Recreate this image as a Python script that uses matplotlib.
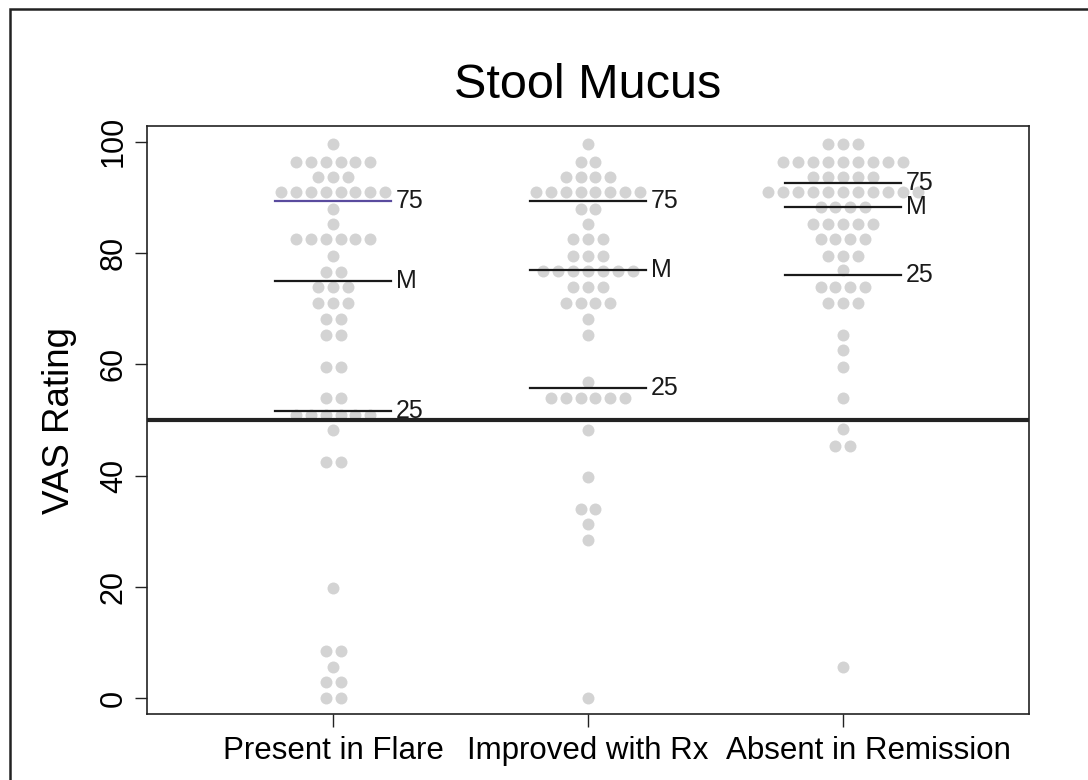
import numpy as np
import matplotlib
matplotlib.use("Agg")
import matplotlib.pyplot as plt
import matplotlib.transforms as mtransforms
from matplotlib.patches import Rectangle

plt.rcParams["font.family"] = ["Liberation Sans", "DejaVu Sans"]

groups = ["Present in Flare", "Improved with Rx", "Absent in Remission"]

# beeswarm rows: rating level and number of patients at that level
flare_levels = [99.5, 96.4, 93.7, 91.0, 87.9, 85.2, 82.5, 79.5, 76.6, 73.9, 71.1, 68.1,
                65.3, 59.6, 53.9, 50.9, 48.2, 42.5, 19.9, 8.5, 5.7, 2.9, 0.0]
flare_counts = [1, 6, 3, 8, 1, 1, 6, 1, 2, 3, 3, 2,
                2, 2, 2, 6, 1, 2, 1, 2, 1, 2, 2]

rx_levels = [99.5, 96.4, 93.7, 91.0, 87.9, 85.3, 82.5, 79.5, 76.8, 73.9, 71.1, 68.1,
             65.3, 56.9, 53.9, 48.2, 39.7, 34.0, 31.3, 28.4, 0.0]
rx_counts = [1, 2, 4, 8, 2, 1, 3, 3, 7, 3, 4, 1,
             1, 1, 6, 1, 1, 2, 1, 1, 1]

rem_levels = [99.5, 96.4, 93.7, 90.9, 88.2, 85.2, 82.5, 79.5, 76.9, 73.9, 71.1,
              65.3, 62.5, 59.6, 53.9, 48.3, 45.4, 5.7]
rem_counts = [3, 9, 5, 11, 4, 5, 4, 3, 1, 4, 3,
              1, 1, 1, 1, 1, 2, 1]

# quartile lines (25th, median, 75th)
q25 = [51.7, 55.8, 76.1]
med = [75.0, 77.0, 88.2]
q75 = [89.3, 89.3, 92.5]

threshold = 50

levels = [flare_levels, rx_levels, rem_levels]
counts = [flare_counts, rx_counts, rem_counts]

fig = plt.figure(figsize=(10.88, 7.8), dpi=100)
ax = fig.add_axes([147 / 1088, 66 / 780, 882 / 1088, 588 / 780])

dx = 0.0586
for i, (lv, ct) in enumerate(zip(levels, counts)):
    xs, ys = [], []
    for v, n in zip(lv, ct):
        off = (np.arange(n) - (n - 1) / 2) * dx
        xs.extend(i + 1 + off)
        ys.extend([v] * n)
    ax.scatter(xs, ys, s=74, color="#d3d3d3", linewidths=0, zorder=2)

hw = 0.226
for i in range(3):
    x = i + 1
    c75 = "#5a4b9e" if i == 0 else "#1a1a1a"
    ax.plot([x - hw, x + hw], [q75[i], q75[i]], color=c75, lw=1.6, zorder=3)
    ax.plot([x - hw, x + hw], [med[i], med[i]], color="#1a1a1a", lw=1.6, zorder=3)
    ax.plot([x - hw, x + hw], [q25[i], q25[i]], color="#1a1a1a", lw=1.6, zorder=3)
    for val, lab in [(q75[i], "75"), (med[i], "M"), (q25[i], "25")]:
        ax.text(x + hw + 0.02, val, lab, fontsize=18, va="center", ha="left",
                color="#1a1a1a", zorder=4)

ax.axhline(threshold, color="#222222", lw=3, zorder=3)

ax.set_xlim(0.27, 3.73)
ax.set_ylim(-2.82, 102.82)
ax.set_xticks([1, 2, 3])
ax.set_xticklabels(groups, fontsize=22.5)
ax.set_yticks([0, 20, 40, 60, 80, 100])
ax.set_yticklabels(["0", "20", "40", "60", "80", "100"], fontsize=22,
                   rotation=90, va="center")
ax.tick_params(axis="both", length=9, width=1, color="#222222", direction="out")
ax.tick_params(axis="y", pad=4)
ax.tick_params(axis="x", pad=7)
for sp in ax.spines.values():
    sp.set_linewidth(1.2)
    sp.set_color("#222222")

# last category label sits a little right of its tick in the original
lab3 = ax.get_xticklabels()[2]
lab3.set_transform(lab3.get_transform() +
                   mtransforms.ScaledTranslation(26 / 100, 0, fig.dpi_scale_trans))

ax.set_ylabel("VAS Rating", fontsize=26.5, labelpad=16)
ax.set_title("Stool Mucus", fontsize=35, pad=20)

# outer frame around the figure
fig.patches.append(Rectangle((9.5 / 1088, -0.1), 1.2, (780 - 9.5) / 780 + 0.1,
                             transform=fig.transFigure, fill=False,
                             edgecolor="#222222", lw=1.8))

fig.savefig("out.png", dpi=100)
